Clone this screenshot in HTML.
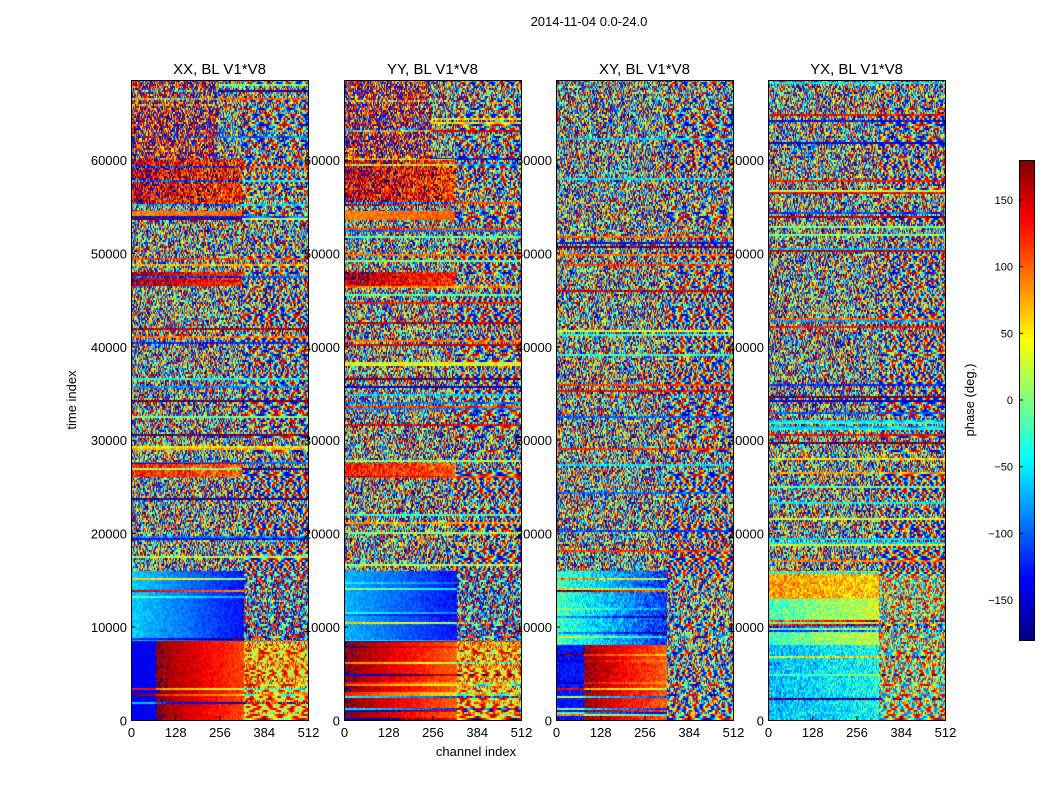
<!DOCTYPE html>
<html><head><meta charset="utf-8">
<style>
body{margin:0;background:#fff;width:1050px;height:800px;overflow:hidden;font-family:"Liberation Sans",sans-serif}
#root{position:relative;width:1050px;height:800px}
canvas{position:absolute}
svg{position:absolute;left:0;top:0}
</style></head>
<body><div id="root">
<svg id="ov" width="1050" height="800"></svg>
</div>
<script>
// ---- data ----
const panelTitles = ["XX, BL V1*V8","YY, BL V1*V8","XY, BL V1*V8","YX, BL V1*V8"];
const xTicks = [0,128,256,384,512];
const yTicks = [0,10000,20000,30000,40000,50000,60000];
const cbTicks = [150,100,50,0,-50,-100,-150];
const tMax = 68500, chMax = 512;
// bands: [t0, t1, ch0, ch1, phaseAtCh0, phaseAtCh1, spread]
const bandsXX = [[0,8500,0,70,-140,-140,10],[0,8500,70,325,175,110,15],[0,8500,325,512,80,70,90],
 [8500,16000,0,325,-60,-130,15],[8500,16000,325,512,-120,-120,150],[26000,27500,0,320,130,100,40],
 [46500,48000,0,320,160,120,40],[53500,54500,0,320,90,100,20],[55000,60000,0,320,150,120,70],[60000,68500,0,250,150,150,120]];
const bandsYY = [[0,8500,0,325,175,100,15],[0,8500,325,512,80,70,90],
 [8500,16000,0,325,-70,-130,15],[8500,16000,325,512,-120,-120,150],[26000,27500,0,320,130,100,40],
 [46500,48000,0,320,160,120,40],[53500,54500,0,320,90,100,20],[55000,60000,0,320,150,120,70],[60000,68500,0,250,150,150,120]];
const bandsXY = [[0,8000,0,80,-130,-130,20],[0,8000,80,320,170,100,20],[8000,16000,0,320,-20,-120,35],[0,16000,320,512,0,0,170]];
const bandsYX = [[0,8000,0,320,-70,-40,40],[8000,13000,0,320,-20,30,40],[13000,16000,0,320,80,60,40],[0,16000,320,512,30,30,140]];
const panelBands = [bandsXX,bandsYY,bandsXY,bandsYX];
const panelLeft = [131,344,556,768];
const PT=80, PB=720, PW=177;

function jet(v){
  const r=Math.min(1,Math.max(0,1.5-Math.abs(4*v-3)));
  const g=Math.min(1,Math.max(0,1.5-Math.abs(4*v-2)));
  const b=Math.min(1,Math.max(0,1.5-Math.abs(4*v-1)));
  return [r*255|0,g*255|0,b*255|0];
}
function hash(a,b){let h=(a*374761393+b*668265263)^0x5bd1e995;h=(h^(h>>>13))*1274126177;h=h^(h>>>16);return ((h>>>0)%10000)/10000;}
const yScale = t => PB-(t/tMax)*(PB-PT);
const xScale = c => c/chMax*PW;

const root=document.getElementById('root');
panelBands.forEach((bands,p)=>{
  const cv=document.createElement('canvas');
  cv.width=PW;cv.height=PB-PT;
  cv.style.left=panelLeft[p]+'px';cv.style.top=PT+'px';
  
  
  root.appendChild(cv);
  const ctx=cv.getContext('2d');const img=ctx.createImageData(PW,PB-PT);
  for(let y=0;y<PB-PT;y++){
    const t=(PB-PT-y-0.5)/(PB-PT)*tMax;
    const rb=Math.floor(y/2);
    const stripe=hash(rb,p*7+1);
    const freq=0.05+0.2*hash(rb,11);
    for(let x=0;x<PW;x++){
      const ch=x/PW*chMax;
      let n=hash(rb*3+p,x)*2-1;
      if(ch>320 && hash(rb,5)<0.4) n=Math.sin(x*freq*3+rb)*0.9;
      let ph=n*180;
      if(stripe<0.12) ph=(hash(rb,p)*2-1)*180+n*30;
      for(const b of bands){
        if(t>=b[0]&&t<b[1]&&ch>=b[2]&&ch<b[3]){
          const f=(ch-b[2])/(b[3]-b[2]);
          ph=b[4]+(b[5]-b[4])*f+n*b[6];
          if(stripe<0.15) ph+= (hash(rb,3)*2-1)*150;
        }
      }
      ph=((ph+180)%360+360)%360-180;
      const c=jet((ph+180)/360);
      const i=(y*PW+x)*4;img.data[i]=c[0];img.data[i+1]=c[1];img.data[i+2]=c[2];img.data[i+3]=255;
    }
  }
  ctx.putImageData(img,0,0);
});
const cb=document.createElement('canvas');cb.width=15;cb.height=480;
cb.style.left='1019px';cb.style.top='160px';


root.appendChild(cb);
const cctx=cb.getContext('2d');
for(let y=0;y<480;y++){const c=jet(1-y/479);cctx.fillStyle=`rgb(${c})`;cctx.fillRect(0,y,15,1);}

const ov=document.getElementById('ov');root.appendChild(ov);
const NS='http://www.w3.org/2000/svg';
function mk(tag,attrs,txt,name){const e=document.createElementNS(NS,tag);for(const k in attrs)e.setAttribute(k,attrs[k]);if(txt!==undefined)e.textContent=txt;
 
 
 ov.appendChild(e);return e;}
panelLeft.forEach((L,p)=>{
  mk('rect',{x:L+0.5,y:PT+0.5,width:PW,height:PB-PT,fill:'none',stroke:'#000'},undefined,'panel-frame');
  mk('text',{x:L+PW/2,y:PT-6,'text-anchor':'middle','font-size':15},panelTitles[p],'panel-title');
  xTicks.forEach(v=>{const x=L+xScale(v)+0.5;
    mk('line',{x1:x,x2:x,y1:PB,y2:PB-4,stroke:'#000'},undefined,'x-tick');
    mk('text',{x:x,y:PB+17,'text-anchor':'middle','font-size':13},String(v),'x-tick-label');});
  yTicks.forEach(v=>{const y=yScale(v)+0.5;
    mk('line',{x1:L,x2:L+4,y1:y,y2:y,stroke:'#000'},undefined,'y-tick');
    mk('text',{x:L-4,y:y+5,'text-anchor':'end','font-size':13},String(v),'y-tick-label');});
});
mk('text',{x:589,y:26,'text-anchor':'middle','font-size':13},'2014-11-04 0.0-24.0','suptitle');
mk('text',{x:76,y:400,'text-anchor':'middle','font-size':13,transform:'rotate(-90 76 400)'},'time index','y-axis-title');
mk('text',{x:476,y:756,'text-anchor':'middle','font-size':13},'channel index','x-axis-title');
mk('rect',{x:1019.5,y:160.5,width:15,height:480,fill:'none',stroke:'#000'},undefined,'colorbar-frame');
cbTicks.forEach(v=>{const y=160+(180-v)/360*480;
  mk('line',{x1:1019,x2:1023,y1:y,y2:y,stroke:'#000'},undefined,'colorbar-tick');
  mk('text',{x:1013,y:y+4,'text-anchor':'end','font-size':11},v<0?'\u2212'+(-v):String(v),'colorbar-tick-label');});
mk('text',{x:974,y:400,'text-anchor':'middle','font-size':13,transform:'rotate(-90 974 400)'},'phase (deg.)','colorbar-title');
</script>
</body></html>
